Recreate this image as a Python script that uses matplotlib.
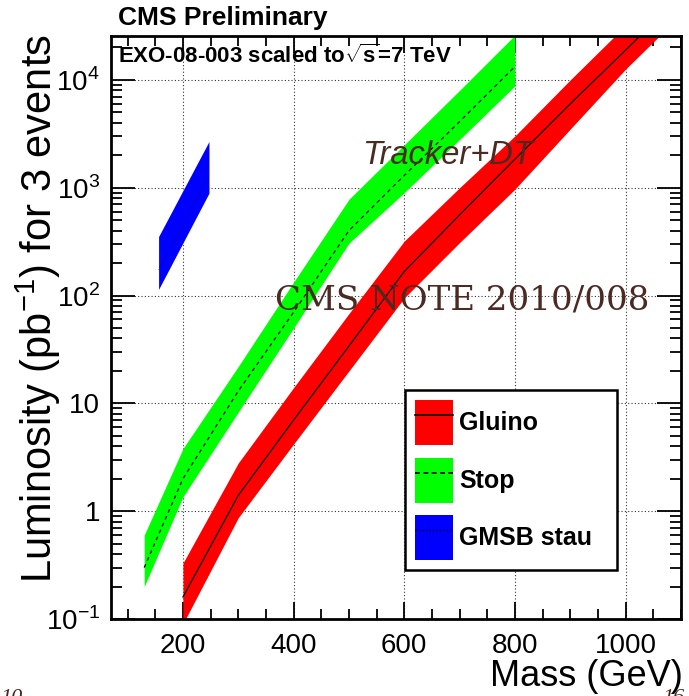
import matplotlib
matplotlib.use('Agg')
import matplotlib.pyplot as plt
from matplotlib.patches import Patch
from matplotlib.lines import Line2D
from matplotlib.ticker import FixedLocator, FixedFormatter, MultipleLocator, LogLocator

plt.rcParams['font.family'] = 'Liberation Sans'
plt.rcParams['mathtext.fontset'] = 'custom'
plt.rcParams['mathtext.rm'] = 'Liberation Sans'
plt.rcParams['mathtext.bf'] = 'Liberation Sans:bold'

# gluino band
gluino_mass = [200, 300, 400, 500, 600, 700, 800, 900, 1000, 1100]
gluino_mid = [0.16, 1.4, 7.0, 34, 167, 560, 1840, 6000, 18900, 60000]
gluino_hi = [0.33, 2.8, 14, 68, 320, 1000, 3020, 10000, 32000, 100000]
gluino_lo = [0.09, 0.87, 4.2, 20, 95, 310, 970, 3500, 12600, 40000]

# stop band
stop_mass = [130, 200, 300, 400, 500, 600, 700, 800]
stop_mid = [0.3, 2.0, 13, 70, 400, 1300, 4100, 13300]
stop_hi = [0.6, 3.8, 22, 133, 780, 2500, 8000, 26000]
stop_lo = [0.2, 1.36, 8.3, 50, 306, 900, 2800, 8800]

# GMSB stau band
stau_mass = [156, 247]
stau_mid = [173, 1316]
stau_hi = [352, 2680]
stau_lo = [114, 889]

y_ticks = [0.1, 1, 10, 100, 1000, 10000]
y_labels = ['10$^{-1}$', '1', '10', '10$^{2}$', '10$^{3}$', '10$^{4}$']
x_ticks = [200, 400, 600, 800, 1000]

fig = plt.figure(figsize=(6.89, 6.96), dpi=100)
ax = fig.add_axes([0.1611, 0.1106, 0.8273, 0.8377])

ax.fill_between(gluino_mass, gluino_lo, gluino_hi, color='#ff0000', lw=0, zorder=2)
ax.plot(gluino_mass, gluino_mid, color='black', lw=0.9, zorder=3)
ax.fill_between(stop_mass, stop_lo, stop_hi, color='#00ff00', lw=0, zorder=2)
ax.plot(stop_mass, stop_mid, color='black', lw=0.9, ls=(0, (3, 3)), zorder=3)
ax.fill_between(stau_mass, stau_lo, stau_hi, color='#0000ff', lw=0, zorder=2)
ax.plot(stau_mass, stau_mid, color='black', lw=0.6, ls=(0, (1, 2)), alpha=0.6, zorder=3)

ax.set_yscale('log')
ax.set_xlim(70, 1100)
ax.set_ylim(0.1, 25500)

ax.xaxis.set_major_locator(FixedLocator(x_ticks))
ax.xaxis.set_minor_locator(MultipleLocator(50))
ax.yaxis.set_major_locator(FixedLocator(y_ticks))
ax.yaxis.set_major_formatter(FixedFormatter(y_labels))
ax.yaxis.set_minor_locator(LogLocator(base=10, subs=range(2, 10)))
ax.yaxis.set_minor_formatter(FixedFormatter([]))

ax.tick_params(which='both', direction='in', top=True, right=True, width=1.3, labelsize=20)
ax.tick_params(axis='x', which='major', length=12, pad=10)
ax.tick_params(axis='x', which='minor', length=7)
ax.tick_params(axis='y', which='major', length=17, pad=8)
ax.tick_params(axis='y', which='minor', length=8)
for s in ax.spines.values():
    s.set_linewidth(2)

ax.set_axisbelow(True)
ax.grid(True, which='major', color='black', ls=(0, (1, 2)), lw=0.8, alpha=0.8)

# legend
handles = [
    (Patch(facecolor='#ff0000', edgecolor='none'), Line2D([], [], color='black', lw=1.2)),
    (Patch(facecolor='#00ff00', edgecolor='none'), Line2D([], [], color='black', lw=1.2, ls=(0, (3, 2)))),
    (Patch(facecolor='#0000ff', edgecolor='none'), Line2D([], [], color='black', lw=1.0, ls=(0, (1, 1.5)))),
]
leg = ax.legend(handles, ['Gluino', 'Stop', 'GMSB stau'], loc='upper left',
                bbox_to_anchor=(0.516, 0.393, 0.372, 0.0), mode='expand',
                prop={'weight': 'bold', 'size': 18}, frameon=True, fancybox=False,
                edgecolor='black', framealpha=1, borderaxespad=0, borderpad=0.4,
                handlelength=1.5, handleheight=2.4, labelspacing=0.5, handletextpad=0.25)
leg.get_frame().set_linewidth(1.8)

ax.text(0.012, 0.985, r'EXO-08-003 scaled to$\mathbf{\sqrt{s}}$=7 TeV', transform=ax.transAxes,
        ha='left', va='top', fontsize=16, fontweight='bold')

brown = '#4b2a22'
fig.text(362 / 689, 1 - 156 / 696, 'Tracker+DT', fontsize=23.5, fontstyle='italic', color=brown,
         ha='left', va='center', zorder=5)
fig.text(275 / 689, 1 - 300 / 696, 'CMS NOTE 2010/008', fontsize=24.5, family='DejaVu Serif',
         color=brown, ha='left', va='center', zorder=5)

fig.text(118 / 689, 1 - 18 / 696, 'CMS Preliminary', fontsize=19, fontweight='bold',
         ha='left', va='center')
fig.text(38 / 689, 1 - 34 / 696, 'Luminosity (pb$^{-1}$) for 3 events', rotation=90,
         fontsize=30, ha='center', va='top')
fig.text(683 / 689, 1 - 676 / 696, 'Mass (GeV)', fontsize=26, ha='right', va='center')

fig.text(0.0, 1 - 689 / 696, '10', fontsize=16, fontstyle='italic', family='Liberation Serif',
         color=brown, ha='left', va='top')
fig.text(662 / 689, 1 - 689 / 696, '16', fontsize=16, fontstyle='italic', family='Liberation Serif',
         color=brown, ha='left', va='top')

fig.savefig('out.png', dpi=100)
